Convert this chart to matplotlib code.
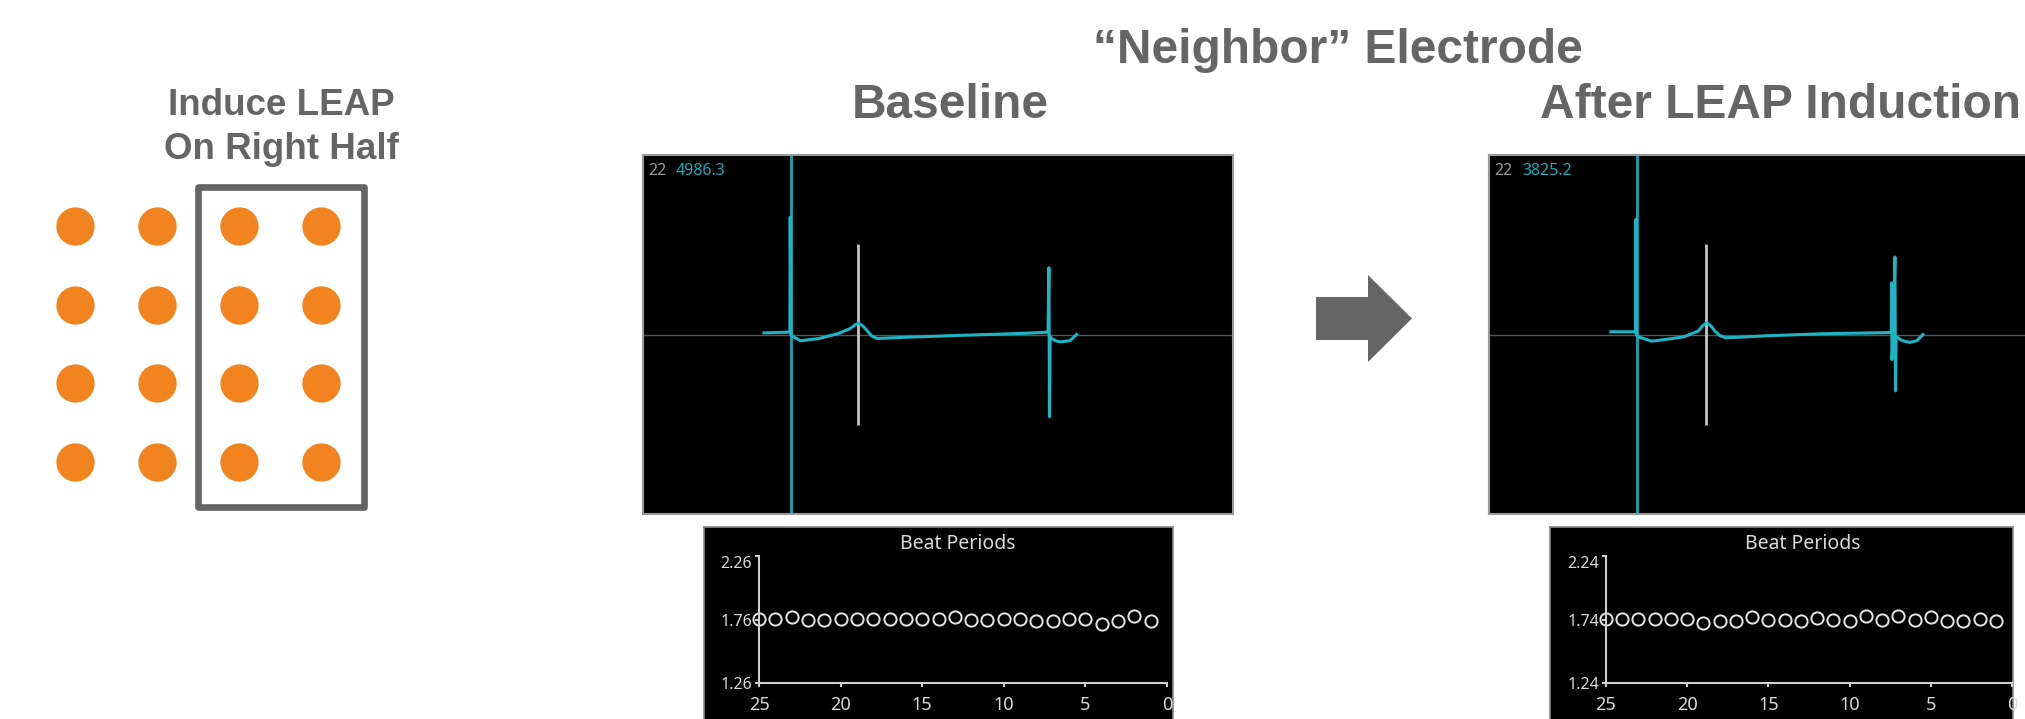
import numpy as np
import matplotlib
matplotlib.use("Agg")
import matplotlib.pyplot as plt
from matplotlib.patches import Rectangle, FancyArrow

# electrode grid (4 x 4), LEAP induced on columns 3-4
grid_cols = [1, 2, 3, 4]
grid_rows = [1, 2, 3, 4]
leap_box_cols = (2.5, 4.52)
leap_box_rows = (0.5, 4.57)

# field potential traces (time in s, normalised amplitude)
baseline_t = [-0.18, -0.016, -0.004, -0.002, 0.003, 0.016, 0.067, 0.196, 0.326,
              0.404, 0.435, 0.461, 0.49, 0.521, 0.55, 0.586, 0.65, 0.793, 1.18,
              1.57, 1.746, 1.752, 1.756, 1.760, 1.766, 1.80, 1.829, 1.894, 1.94]
baseline_v = [0.009, 0.013, 0.013, 0.654, 0.0, -0.01, -0.035, -0.022, 0.006,
              0.033, 0.052, 0.063, 0.048, 0.02, -0.008, -0.022, -0.02, -0.015,
              -0.004, 0.006, 0.013, 0.372, -0.458, -0.01, -0.02, -0.036, -0.041,
              -0.035, 0.0]
after_t = [-0.173, -0.006, -0.004, -0.002, 0.003, 0.02, 0.102, 0.175, 0.322,
           0.42, 0.45, 0.476, 0.505, 0.53, 0.565, 0.603, 0.68, 0.885, 1.252,
           1.728, 1.730, 1.732, 1.742, 1.752, 1.756, 1.760, 1.80, 1.852, 1.90,
           1.942]
after_v = [0.015, 0.015, 0.642, 0.0, -0.005, -0.015, -0.037, -0.03, -0.013,
           0.02, 0.05, 0.065, 0.048, 0.02, -0.006, -0.018, -0.016, -0.007, 0.004,
           0.011, 0.288, -0.14, 0.011, 0.432, -0.314, -0.01, -0.034, -0.044,
           -0.035, 0.0]
baseline_beat_t = 0.0
after_beat_t = 0.004
baseline_fpd_t = 0.456
after_fpd_t = 0.474
channel = "22"
baseline_amp = "4986.3"
after_amp = "3825.2"

# beat periods (s), beats 25 -> 1
beat_index = list(range(25, 0, -1))
baseline_beats = [1.763, 1.763, 1.778, 1.760, 1.760, 1.763, 1.763, 1.763, 1.763,
                  1.763, 1.763, 1.763, 1.776, 1.760, 1.760, 1.763, 1.763, 1.747,
                  1.747, 1.763, 1.763, 1.723, 1.747, 1.789, 1.750]
after_beats = [1.743, 1.743, 1.743, 1.743, 1.743, 1.743, 1.716, 1.727, 1.727,
               1.756, 1.740, 1.740, 1.727, 1.753, 1.740, 1.727, 1.769, 1.740,
               1.766, 1.740, 1.756, 1.727, 1.727, 1.743, 1.729]
baseline_yticks = [1.26, 1.76, 2.26]
after_yticks = [1.24, 1.74, 2.24]
beat_xticks = [25, 20, 15, 10, 5, 0]

W, H = 2025, 719
GRAY = "#656565"
ORANGE = "#f2841f"
CYAN = "#1db4c4"
UI_TXT = "#d9d9d9"

fig = plt.figure(figsize=(W / 100, H / 100), dpi=100)


def box(x0, y0, x1, y1):
    return [x0 / W, 1 - y1 / H, (x1 - x0) / W, (y1 - y0) / H]


# overlay in pixel coordinates for titles and arrow
over = fig.add_axes([0, 0, 1, 1], zorder=5)
over.set_xlim(0, W)
over.set_ylim(H, 0)
over.axis("off")
tfont = dict(family="Liberation Sans", weight="bold", color=GRAY)
over.text(1338, 63, "\u201cNeighbor\u201d Electrode", fontsize=34.5, ha="center", va="baseline", **tfont)
over.text(950, 118, "Baseline", fontsize=34.5, ha="center", va="baseline", **tfont)
over.text(1540, 118, "After LEAP Induction", fontsize=34.5, ha="left", va="baseline", **tfont)
over.text(281, 115, "Induce LEAP", fontsize=26.5, ha="center", va="baseline", **tfont)
over.text(281, 159, "On Right Half", fontsize=26.5, ha="center", va="baseline", **tfont)
over.add_patch(FancyArrow(1316, 318.5, 96, 0, width=43, head_width=87, head_length=44,
                          length_includes_head=True, color=GRAY, lw=0))

# electrode grid
gax = fig.add_axes(box(0, 0, 420, 719))
gax.set_xlim(1 - 75 / 82, 1 + 345 / 82)
gax.set_ylim(1 + 493 / 78.67, 1 - 226 / 78.67)
gax.axis("off")
cc, rr = np.meshgrid(grid_cols, grid_rows)
gax.scatter(cc.ravel(), rr.ravel(), s=760, color=ORANGE, linewidths=0)
gax.add_patch(Rectangle((leap_box_cols[0], leap_box_rows[0]),
                        leap_box_cols[1] - leap_box_cols[0],
                        leap_box_rows[1] - leap_box_rows[0],
                        fill=False, ec=GRAY, lw=4.8, joinstyle="round"))


def trace_panel(rect, t, v, beat_t, fpd_t, amp):
    ax = fig.add_axes(rect)
    ax.set_facecolor("black")
    ax.set_xlim(-1, 3)
    ax.set_ylim(-1, 1)
    ax.set_xticks([])
    ax.set_yticks([])
    for s in ax.spines.values():
        s.set_color("#9a9a9a")
        s.set_linewidth(1.5)
    ax.axhline(0, color="#555555", lw=1, zorder=1)
    ax.axvline(beat_t, color="#19a3b3", lw=2, zorder=2)
    ax.vlines(fpd_t, -0.504, 0.504, color="#c4c4c4", lw=2, zorder=2)
    ax.plot(t, v, color=CYAN, lw=2.2, zorder=3)
    ax.text(0.009, 0.955, channel, transform=ax.transAxes, color="#9a9a9a",
            fontsize=11.5, family="Noto Sans", va="center", ha="left")
    ax.text(0.056, 0.955, amp, transform=ax.transAxes, color="#1aa9b9",
            fontsize=11.5, family="Noto Sans", va="center", ha="left")
    return ax


trace_panel(box(643, 155, 1233, 514), baseline_t, baseline_v,
            baseline_beat_t, baseline_fpd_t, baseline_amp)
trace_panel(box(1489, 155, 2079, 514), after_t, after_v,
            after_beat_t, after_fpd_t, after_amp)


def beat_panel(outer, inner, title_x, vals, yticks):
    bg = fig.add_axes(box(*outer))
    bg.set_facecolor("black")
    bg.set_xticks([])
    bg.set_yticks([])
    for s in bg.spines.values():
        s.set_color("#8a8a8a")
        s.set_linewidth(1.2)
    ax = fig.add_axes(box(*inner))
    ax.patch.set_alpha(0)
    ax.set_xlim(25, 0)
    ax.set_ylim(yticks[0], yticks[-1])
    for k in ("top", "right"):
        ax.spines[k].set_visible(False)
    for k in ("left", "bottom"):
        ax.spines[k].set_color("#cfcfcf")
        ax.spines[k].set_linewidth(1.5)
    ax.set_xticks(beat_xticks)
    ax.set_yticks(yticks)
    ax.set_yticklabels(["%.2f" % y for y in yticks])
    ax.tick_params(axis="x", length=3, width=1.5, pad=6, colors="#cfcfcf",
                   labelcolor=UI_TXT, labelsize=13)
    ax.tick_params(axis="y", length=3, width=1.5, pad=2, colors="#cfcfcf",
                   labelcolor=UI_TXT, labelsize=11.5)
    for lab in ax.get_xticklabels() + ax.get_yticklabels():
        lab.set_family("Noto Sans")
    ax.get_yticklabels()[-1].set_va("top")
    ax.plot(beat_index, vals, "o", ms=8.8, mfc="none", mec="#e6e6e6",
            mew=1.4, clip_on=False)
    fig.text(title_x / W, 1 - 544 / H, "Beat Periods", color=UI_TXT,
             fontsize=14, family="Noto Sans", ha="center", va="center", zorder=10)


beat_panel((704, 527, 1173, 730), (759, 556, 1167, 683), 958,
           baseline_beats, baseline_yticks)
beat_panel((1550, 527, 2013, 730), (1606, 556, 2012, 683), 1803,
           after_beats, after_yticks)

fig.savefig("out.png", dpi=100, facecolor="white")
